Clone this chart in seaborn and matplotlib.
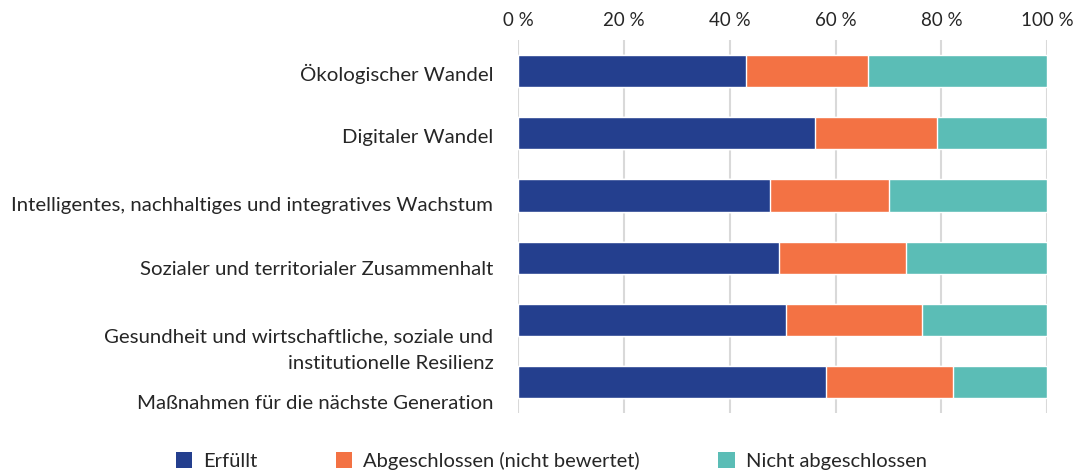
import numpy as np
import pandas as pd
import matplotlib.pyplot as plt
import matplotlib.transforms as mtransforms
from matplotlib.patches import Patch
import seaborn as sns

# Chart data (percent of milestones/targets per category)
categories = [
    "Ökologischer Wandel",
    "Digitaler Wandel",
    "Intelligentes, nachhaltiges und integratives Wachstum",
    "Sozialer und territorialer Zusammenhalt",
    "Gesundheit und wirtschaftliche, soziale und\ninstitutionelle Resilienz",
    "Maßnahmen für die nächste Generation",
]
erfuellt = [43.0, 56.1, 47.6, 49.3, 50.6, 58.1]
abgeschlossen = [23.2, 23.0, 22.5, 24.0, 25.8, 24.2]
nicht_abgeschlossen = [33.8, 20.9, 29.9, 26.7, 23.6, 17.7]
series_names = ["Erfüllt", "Abgeschlossen (nicht bewertet)", "Nicht abgeschlossen"]
x_ticks = [0, 20, 40, 60, 80, 100]

colors = ["#243F8E", "#F37244", "#5BBDB6"]

df = pd.DataFrame({
    "kategorie": categories,
    "erfuellt": erfuellt,
    "abgeschlossen": abgeschlossen,
    "nicht": nicht_abgeschlossen,
})
df["end1"] = df["erfuellt"]
df["end2"] = df["end1"] + df["abgeschlossen"]
df["end3"] = df["end2"] + df["nicht"]

sns.set_theme(style="white")
plt.rcParams["font.family"] = ["Lato", "DejaVu Sans"]

fig = plt.figure(figsize=(10.77, 4.76), dpi=100)
ax = fig.add_axes([0.4813, 0.132, 0.4909, 0.784])

# draw from the longest segment end down so the stacks show
for col, color in zip(["end3", "end2", "end1"], colors[::-1]):
    sns.barplot(data=df, x=col, y="kategorie", color=color, width=0.52,
                saturation=1, orient="h", ax=ax, zorder=3)

ax.set_xlim(0, 100)
ax.set_ylim(5.5, -0.5)
ax.set_xticks(x_ticks)
ax.set_xticklabels([f"{t} %" for t in x_ticks])
ax.xaxis.tick_top()
ax.set_xlabel("")
ax.set_ylabel("")
ax.grid(axis="x", color="#D9D9D9", linewidth=1.5, zorder=0)
ax.grid(axis="y", visible=False)
for s in ax.spines.values():
    s.set_visible(False)
ax.tick_params(axis="x", length=0, pad=8, labelsize=13.5, colors="#262626")
ax.tick_params(axis="y", length=0, pad=18, labelsize=14.7, colors="#262626")

# label offsets as in the original layout (points, downwards)
shifts = [1, 2, 6, 7.5, 17, 14.5]
for lab, sh in zip(ax.get_yticklabels(), shifts):
    lab.set_linespacing(1.75)
    lab.set_transform(lab.get_transform() +
                      mtransforms.ScaledTranslation(0, -sh / 72, fig.dpi_scale_trans))

handles = [Patch(facecolor=c, edgecolor="none") for c in colors]
fig.legend(handles, series_names, loc="center", bbox_to_anchor=(0.512, 0.032),
           ncol=3, frameon=False, fontsize=14.5, handlelength=0.8, handleheight=0.9,
           handletextpad=0.55, columnspacing=3.9, labelcolor="#262626")

fig.savefig("out.png", dpi=100)
